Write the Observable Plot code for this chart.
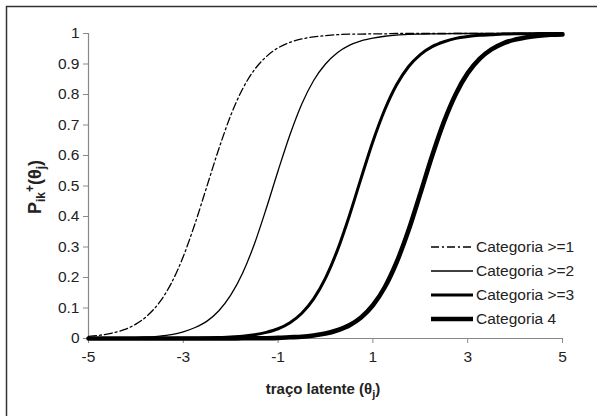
<!DOCTYPE html>
<html>
<head>
<meta charset="utf-8">
<script src="https://cdn.jsdelivr.net/npm/d3@7"></script>
<script src="https://cdn.jsdelivr.net/npm/@observablehq/plot@0.6"></script>
<style>
  html, body { margin: 0; padding: 0; background: #fff; }
  #chart { width: 597px; height: 416px; position: relative; }
</style>
</head>
<body>
<div id="chart"></div>
<script>
const theta = [-5,-4.75,-4.5,-4.25,-4,-3.75,-3.5,-3.25,-3,-2.75,-2.5,-2.25,-2,-1.75,-1.5,-1.25,-1,-0.75,-0.5,-0.25,0,0.25,0.5,0.75,1,1.25,1.5,1.75,2,2.25,2.5,2.75,3,3.25,3.5,3.75,4,4.25,4.5,4.75,5];

const cat1 = [0.007,0.011,0.018,0.029,0.047,0.076,0.119,0.182,0.269,0.378,0.500,0.622,0.731,0.818,0.881,0.924,0.953,0.971,0.982,0.989,0.993,0.996,0.998,0.998,0.999,0.999,1,1,1,1,1,1,1,1,1,1,1,1,1,1,1];
const cat2 = [0.000,0.001,0.001,0.002,0.003,0.005,0.008,0.013,0.022,0.036,0.057,0.091,0.142,0.214,0.310,0.426,0.550,0.668,0.769,0.846,0.900,0.937,0.961,0.976,0.985,0.991,0.995,0.997,0.998,0.999,0.999,1,1,1,1,1,1,1,1,1,1];
const cat3 = [0,0,0,0,0,0,0,0,0.001,0.001,0.002,0.003,0.005,0.007,0.012,0.020,0.032,0.052,0.083,0.130,0.198,0.289,0.401,0.525,0.646,0.750,0.832,0.891,0.931,0.957,0.973,0.984,0.990,0.994,0.996,0.998,0.999,0.999,1,1,1];
const cat4 = [0,0,0,0,0,0,0,0,0,0,0,0,0,0.001,0.001,0.001,0.002,0.004,0.006,0.010,0.016,0.027,0.043,0.069,0.109,0.168,0.250,0.354,0.475,0.599,0.711,0.802,0.870,0.917,0.948,0.968,0.980,0.988,0.993,0.996,0.997];

const seriesNames = ["Categoria >=1", "Categoria >=2", "Categoria >=3", "Categoria 4"];
const xTicks = [-5,-3,-1,1,3,5];
const xTickLabels = ["-5","-3","-1","1","3","5"];
const yTicks = [0,0.1,0.2,0.3,0.4,0.5,0.6,0.7,0.8,0.9,1];
const yTickLabels = ["0","0.1","0.2","0.3","0.4","0.5","0.6","0.7","0.8","0.9","1"];

const seriesValues = [cat1, cat2, cat3, cat4];
const seriesStyle = [
  {strokeWidth: 1.3, dash: "8,3,2,3"},
  {strokeWidth: 1.3, dash: null},
  {strokeWidth: 3, dash: null},
  {strokeWidth: 4.6, dash: null}
];

const rows = seriesNames.map((name, k) => theta.map((t, i) => ({series: name, theta: t, p: seriesValues[k][i]})));

const FONT = "'Liberation Sans', Arial, sans-serif";

const lineMarks = rows.map((data, k) => Plot.line(data, {
  x: "theta", y: "p", stroke: "#000",
  strokeWidth: seriesStyle[k].strokeWidth,
  strokeDasharray: seriesStyle[k].dash,
  curve: "monotone-x"
}));

const plot = Plot.plot({
  width: 597,
  height: 416,
  marginLeft: 88,
  marginRight: 35,
  marginTop: 33,
  marginBottom: 78,
  style: {fontFamily: FONT, fontSize: "15px", background: "#fff", color: "#222"},
  x: {domain: [-5, 5]},
  y: {domain: [0, 1]},
  marks: [
    Plot.axisX({ticks: xTicks, tickFormat: d => xTickLabels[xTicks.indexOf(d)], tickSize: 5, tickPadding: 7, stroke: "#888", fill: "#222", label: null}),
    Plot.axisY({ticks: yTicks, tickFormat: d => yTickLabels[yTicks.indexOf(d)], tickSize: 5, tickPadding: 4, stroke: "#888", fill: "#222", label: null}),
    Plot.ruleX([-5], {stroke: "#888", strokeWidth: 1.2}),
    Plot.ruleY([0], {stroke: "#888", strokeWidth: 1.2}),
    ...lineMarks
  ]
});

document.getElementById("chart").appendChild(plot);

const svg = d3.select(plot);
svg.selectAll("g[aria-label*='tick label']").attr("font-size", null).style("font-size", "15.5px");
svg.selectAll("g[aria-label*='tick label'] text").style("font-size", "15.5px").style("font-family", FONT);

// outer frame (top and left edges visible)
svg.append("line").attr("x1", 6).attr("x2", 597).attr("y1", 6.5).attr("y2", 6.5).attr("stroke", "#333").attr("stroke-width", 1.5);
svg.append("line").attr("x1", 6.5).attr("x2", 6.5).attr("y1", 6).attr("y2", 416).attr("stroke", "#333").attr("stroke-width", 1.5);

// axis titles
const xt = svg.append("text").attr("x", 323).attr("y", 394).attr("text-anchor", "middle")
  .attr("font-family", FONT).attr("font-size", 15).attr("font-weight", "bold").attr("fill", "#222");
xt.append("tspan").text("traço latente (θ");
xt.append("tspan").attr("font-size", 11).attr("dy", 4).text("j");
xt.append("tspan").attr("dy", -4).text(")");

const yt = svg.append("text").attr("transform", "translate(41,187) rotate(-90)").attr("text-anchor", "middle")
  .attr("font-family", FONT).attr("font-size", 18).attr("font-weight", "bold").attr("fill", "#222");
yt.append("tspan").text("P");
yt.append("tspan").attr("font-size", 12).attr("dy", 4).text("ik");
yt.append("tspan").attr("font-size", 12).attr("dy", -11).text("+");
yt.append("tspan").attr("dy", 7).text("(θ");
yt.append("tspan").attr("font-size", 12).attr("dy", 4).text("j");
yt.append("tspan").attr("dy", -4).text(")");

// legend
const legY = [247, 271, 295, 319];
seriesNames.forEach((name, k) => {
  svg.append("line").attr("x1", 431).attr("x2", 473).attr("y1", legY[k]).attr("y2", legY[k])
    .attr("stroke", "#000").attr("stroke-width", seriesStyle[k].strokeWidth)
    .attr("stroke-dasharray", seriesStyle[k].dash);
  svg.append("text").attr("x", 476).attr("y", legY[k]).attr("dy", "0.35em").attr("text-anchor", "start")
    .attr("font-family", FONT).attr("font-size", 15.5).attr("fill", "#222").text(name);
});
</script>
</body>
</html>
